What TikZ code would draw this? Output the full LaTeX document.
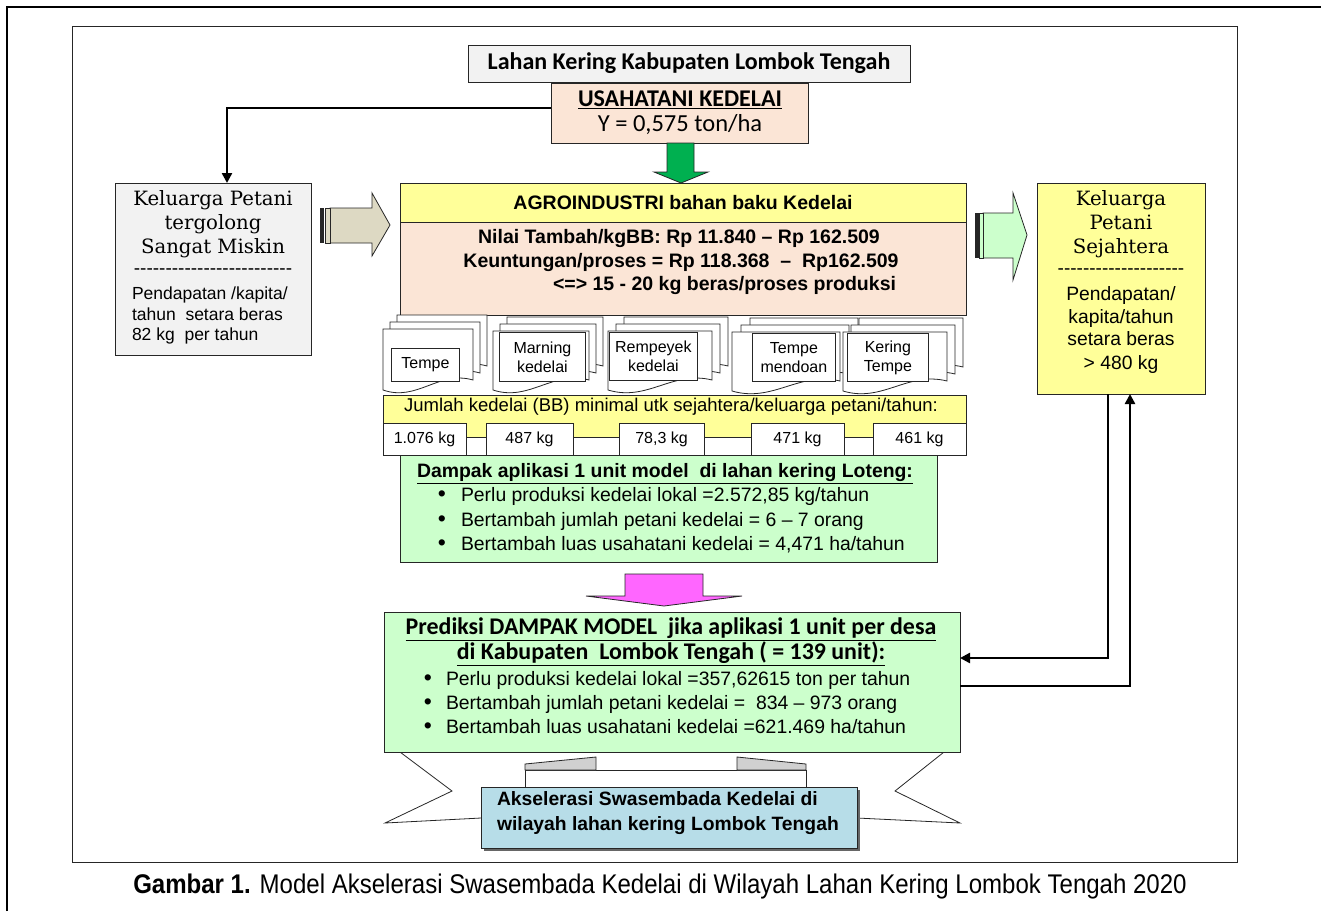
\documentclass[tikz,border=0pt]{standalone}
\usepackage{fontspec}
\setmainfont{Liberation Sans}
\newfontfamily\calfont{Carlito}
\newfontfamily\serfont{DejaVu Serif}
\newfontfamily\dashfont{Liberation Sans}
\usetikzlibrary{calc,arrows.meta}
\definecolor{grayF}{HTML}{F2F2F2}
\definecolor{peach}{HTML}{FBE5D6}
\definecolor{yel}{HTML}{FFFF99}
\definecolor{lgreen}{HTML}{CCFFCC}
\definecolor{dgreen}{HTML}{00B050}
\definecolor{beige}{HTML}{DDD9C3}
\definecolor{magen}{HTML}{FF66FF}
\definecolor{lblue}{HTML}{B7DDE8}
\definecolor{foldc}{HTML}{D0D0D0}
\newcommand\fsz[2]{\fontsize{#1}{#2}\selectfont}
\newcommand\dashes[1]{\dashfont\foreach\i in {1,...,#1}{-}}
% page of a document stack: x, top y, width, bottom y
\newcommand\docpage[4]{%
  \filldraw[fill=white, draw=black!85, line width=0.8pt]
    (#1,#2) -- ({#1+#3},#2) -- ({#1+#3},{#4-14})
    .. controls ({#1+0.62*#3},{#4-24}) and ({#1+0.38*#3},{#4+8}) .. (#1,{#4-4}) -- cycle;}
\newcommand\docstack[6]{% x top w bottom dx dy
  \docpage{#1+2*#5}{#2-2*#6}{#3}{#4-2*#6}
  \docpage{#1+#5}{#2-#6}{#3}{#4-#6}
  \docpage{#1}{#2}{#3}{#4}}
\begin{document}
\begin{tikzpicture}[x=1pt,y=-1pt,
  box/.style={draw=black!85, line width=0.9pt, inner sep=0pt, outer sep=0pt, anchor=north west},
  t/.style={inner sep=0pt, outer sep=0pt, text height=0.72em, text depth=0.2em},
  ibox/.style={draw=black!85, line width=0.8pt, fill=white, inner sep=0pt, anchor=north west, align=center, font=\fsz{16}{19}},
  vbox/.style={box, fill=white, minimum height=32pt, font=\fsz{16}{18}},
  conn/.style={line width=2.4pt, -{Triangle[length=10pt,width=10pt]}},
  blk/.style={draw=black!85, line width=0.8pt},
  body/.style={t, font=\fsz{17.5}{20}},
  bodyb/.style={t, font=\fsz{19.3}{22}},
  ser/.style={t, font=\serfont\fsz{19.7}{22}},
  dashline/.style={t, font=\fsz{19}{20}},
  bull/.style={t, font=\fsz{23}{22}},
  bulltxt/.style={t, anchor=west, font=\fsz{19.4}{22}},
  big/.style={t, font=\bfseries\fsz{19.5}{22}}]
\useasboundingbox (0,0) rectangle (1321,911);

% frames
\draw[line width=2.4pt] (7,911) -- (7,7) -- (1321,7);
\draw[line width=1pt, black!85] (72,26) rectangle (1237,862);

% top boxes
\node[box, fill=grayF, minimum width=442pt, minimum height=37pt, font=\calfont\bfseries\fsz{24}{26}] (lahan) at (468,45) {Lahan Kering Kabupaten Lombok Tengah};
\node[box, fill=peach, minimum width=257pt, minimum height=60pt] (usaha) at (551,83) {};
\node[t, font=\calfont\bfseries\fsz{24}{26}] (usaha1) at (680,104) {\underline{USAHATANI KEDELAI}};
\node[t, font=\calfont\fsz{24.5}{26}] (usaha2) at (680,129) {Y = 0,575 ton/ha};

% green down arrow
\filldraw[blk, fill=dgreen] (667,143) -- (694,143) -- (694,172) -- (708,172) -- (681,183) -- (654,172) -- (667,172) -- cycle;

% poor family box
\node[box, fill=grayF, minimum width=196pt, minimum height=172pt] (miskin) at (115,183) {};
\node[ser] (m1) at (213,203) {Keluarga Petani};
\node[ser] (m2) at (213,227) {tergolong};
\node[ser] (m3) at (213,251) {Sangat Miskin};
\node[dashline] (m4) at (213,272) {\dashes{25}};
\node[body, anchor=west] (m5) at (132,297) {Pendapatan /kapita/};
\node[body, anchor=west] (m6) at (132,318) {tahun\ \ setara beras};
\node[body, anchor=west] (m7) at (132,338) {82 kg\ \ per tahun};

\draw[conn] ([yshift=5pt]usaha.west) -| ([xshift=14pt]miskin.north);

% beige block arrow
\filldraw[blk, fill=beige] (330,208) -- (372,208) -- (372,193) -- (390,225) -- (372,256) -- (372,243) -- (330,243) -- cycle;
\fill[black!85] (320,208) rectangle (324,243);
\filldraw[blk, fill=beige] (325,208) rectangle (330,243);

% agroindustri
\node[box, fill=yel, minimum width=566pt, minimum height=39pt, font=\bfseries\fsz{19.5}{22}] (agro) at (400,183) {AGROINDUSTRI bahan baku Kedelai};
\node[box, fill=peach, minimum width=566pt, minimum height=93pt] (nilai) at (400,222) {};
\node[big] (n1) at (679,241) {Nilai Tambah/kgBB: Rp 11.840 – Rp 162.509};
\node[big] (n2) at (681,265) {Keuntungan/proses = Rp 118.368\ \ –\ \ Rp162.509};
\node[big, anchor=west] (n3) at (553,288) {<=> 15 - 20 kg beras/proses produksi};

% green right block arrow
\filldraw[blk, fill=lgreen] (983,213) -- (1013,213) -- (1013,193) -- (1027,235) -- (1013,280) -- (1013,258) -- (983,258) -- cycle;
\fill[black!85] (975,213) rectangle (979,258);
\filldraw[blk, fill=lgreen] (979.5,213) rectangle (983,258);

% prosperous family box
\node[box, fill=yel, minimum width=168pt, minimum height=211pt] (sej) at (1037,183) {};
\node[ser] (s1) at (1121,203) {Keluarga};
\node[ser] (s2) at (1121,227) {Petani};
\node[ser] (s3) at (1121,251) {Sejahtera};
\node[dashline] (s4) at (1121,272) {\dashes{20}};
\node[bodyb] (s5) at (1121,298) {Pendapatan/};
\node[bodyb] (s6) at (1121,321) {kapita/tahun};
\node[bodyb] (s7) at (1121,343) {setara beras};
\node[bodyb] (s8) at (1121,367) {> 480 kg};

% document stacks
\docstack{383}{329}{90}{394}{7}{7}
\node[ibox, minimum width=68pt, minimum height=33pt] (d1) at (391,348) {Tempe};
\docstack{493}{331}{96}{394}{7}{7}
\node[ibox, minimum width=86pt, minimum height=49pt] (d2) at (499,332) {Marning\\kedelai};
\docstack{608}{331}{104}{394}{8}{7}
\node[ibox, minimum width=88pt, minimum height=48pt] (d3) at (609,332) {Rempeyek\\kedelai};
\docstack{732}{332}{108}{395}{9}{7}
\node[ibox, minimum width=83pt, minimum height=48pt] (d4) at (752,333) {Tempe\\mendoan};
\docstack{843}{332}{104}{395}{8}{7}
\node[ibox, minimum width=81pt, minimum height=48pt] (d5) at (847,333) {Kering\\Tempe};

% jumlah band
\node[box, fill=yel, minimum width=583pt, minimum height=42pt] (jml) at (383,395) {};
\node[t, font=\fsz{18.5}{20}] (jmlt) at (671,409) {Jumlah kedelai (BB) minimal utk sejahtera/keluarga petani/tahun:};
\node[vbox, minimum width=83pt] (v1) at (383,423) {1.076 kg};
\node[vbox, minimum width=87pt] (v2) at (486,423) {487 kg};
\node[vbox, minimum width=85pt] (v3) at (619,423) {78,3 kg};
\node[vbox, minimum width=93pt] (v4) at (751,423) {471 kg};
\node[vbox, minimum width=93pt] (v5) at (873,423) {461 kg};

% dampak
\node[box, fill=lgreen, minimum width=537pt, minimum height=107pt] (dampak) at (400,455) {};
\node[t, font=\bfseries\fsz{19.4}{22}] (dt) at (665,475) {\underline{Dampak aplikasi 1 unit model\ \ di lahan kering Loteng:}};
\node[bull] (db1) at (442,499) {\textbullet};
\node[bulltxt] (dt1) at (461,499) {Perlu produksi kedelai lokal =2.572,85 kg/tahun};
\node[bull] (db2) at (442,524) {\textbullet};
\node[bulltxt] (dt2) at (461,524) {Bertambah jumlah petani kedelai = 6 – 7 orang};
\node[bull] (db3) at (442,548) {\textbullet};
\node[bulltxt] (dt3) at (461,548) {Bertambah luas usahatani kedelai = 4,471 ha/tahun};

% magenta arrow
\filldraw[blk, fill=magen] (625,574) -- (703,574) -- (703,596) -- (742,596) -- (664,606) -- (586,596) -- (625,596) -- cycle;

% ribbon
\draw[blk] (400,752) -- (452,791) -- (385,823) -- (481,818);
\draw[blk] (944,752) -- (895,791) -- (960,823) -- (857,818);
\draw[blk] (525,787) -- (525,770) -- (806,770) -- (806,787);
\filldraw[blk, fill=foldc] (525,764) -- (596,757) -- (596,770) -- (525,770) -- cycle;
\filldraw[blk, fill=foldc] (737,757) -- (806,764) -- (806,770) -- (737,770) -- cycle;

% prediksi
\node[box, fill=lgreen, minimum width=576pt, minimum height=140pt] (pred) at (384,612) {};
\node[t, font=\calfont\bfseries\fsz{23.9}{26}] (pt1) at (671,632) {\underline{Prediksi DAMPAK MODEL\ \ jika aplikasi 1 unit per desa}};
\node[t, font=\calfont\bfseries\fsz{23.9}{26}] (pt2) at (671,657) {\underline{di Kabupaten\ \ Lombok Tengah ( = 139 unit):}};
\node[bull] (pb1) at (428,683) {\textbullet};
\node[bulltxt] (pl1) at (446,683) {Perlu produksi kedelai lokal =357,62615 ton per tahun};
\node[bull] (pb2) at (428,707) {\textbullet};
\node[bulltxt] (pl2) at (446,707) {Bertambah jumlah petani kedelai =\ \ 834 – 973 orang};
\node[bull] (pb3) at (428,731) {\textbullet};
\node[bulltxt] (pl3) at (446,731) {Bertambah luas usahatani kedelai =621.469 ha/tahun};

% feedback connectors
\draw[conn] ([xshift=-13pt]sej.south) |- ([yshift=24pt]pred.east);
\draw[conn] ([yshift=-4pt]pred.east) -| ([xshift=9pt]sej.south);

% blue box
\fill[black!60] (484,790) rectangle (860,851);
\node[box, fill=lblue, minimum width=376pt, minimum height=61pt] (aks) at (481,787) {};
\node[t, anchor=west, font=\bfseries\fsz{19.3}{22}] (a1) at (497,803) {Akselerasi Swasembada Kedelai di};
\node[t, anchor=west, font=\bfseries\fsz{19.3}{22}] (a2) at (497,828) {wilayah lahan kering Lombok Tengah};

% caption
\node[t, font=\fsz{27}{30}] (cap) at (660,891) {\scalebox{0.89}[1]{\textbf{Gambar 1.} Model Akselerasi Swasembada Kedelai di Wilayah Lahan Kering Lombok Tengah 2020}};
\end{tikzpicture}
\end{document}
